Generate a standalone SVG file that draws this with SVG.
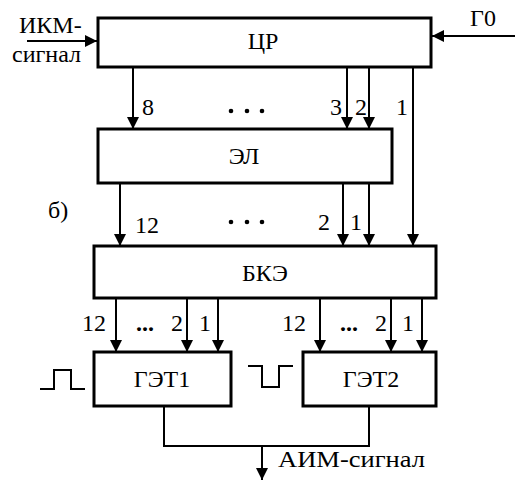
<svg xmlns="http://www.w3.org/2000/svg" width="515" height="481" viewBox="0 0 515 481">
<style>
.box{fill:#fff;stroke:#000;stroke-width:3}
.ln{fill:none;stroke:#000;stroke-width:2}
.ar{fill:none;stroke:#000;stroke-width:2;marker-end:url(#ah)}
text{font-family:"Liberation Serif","Times New Roman",serif;font-size:24px;fill:#000}
.c{text-anchor:middle}
.b{font-weight:bold}
.dot{fill:#000}
</style>
<defs>
<marker id="ah" viewBox="0 0 12 12" markerWidth="12" markerHeight="12" refX="12" refY="6" orient="auto" markerUnits="userSpaceOnUse">
<path d="M0,0 L12,6 L0,12 z" fill="#000"/>
</marker>
</defs>
<g id="connectors">
<line class="ar" x1="27" y1="41" x2="97" y2="41"/>
<line class="ar" x1="515" y1="36" x2="432" y2="36"/>
<line class="ar" x1="133" y1="67" x2="133" y2="129"/>
<line class="ar" x1="347" y1="67" x2="347" y2="129"/>
<line class="ar" x1="369" y1="67" x2="369" y2="129"/>
<line class="ar" x1="413" y1="67" x2="413" y2="246"/>
<line class="ar" x1="120" y1="183" x2="120" y2="246"/>
<line class="ar" x1="343" y1="183" x2="343" y2="246"/>
<line class="ar" x1="369" y1="183" x2="369" y2="246"/>
<line class="ar" x1="116" y1="298" x2="116" y2="352"/>
<line class="ar" x1="187" y1="298" x2="187" y2="352"/>
<line class="ar" x1="218" y1="298" x2="218" y2="352"/>
<line class="ar" x1="320" y1="298" x2="320" y2="352"/>
<line class="ar" x1="391" y1="298" x2="391" y2="352"/>
<line class="ar" x1="422" y1="298" x2="422" y2="352"/>
<polyline class="ln" points="164,406 164,446 369,446 369,406"/>
<line class="ar" x1="262" y1="446" x2="262" y2="480"/>
</g>
<g id="CR"><rect class="box" x="98" y="18" width="333" height="49"/><text class="c" x="263" y="49">ЦР</text></g>
<g id="EL"><rect class="box" x="98" y="129" width="294" height="54"/><text class="c" x="244" y="164">ЭЛ</text></g>
<g id="BKE"><rect class="box" x="94" y="246" width="342" height="52"/><text class="c" x="265" y="281">БКЭ</text></g>
<g id="GET1"><rect class="box" x="94" y="352" width="137" height="54"/><text class="c" x="162" y="387">ГЭТ1</text></g>
<g id="GET2"><rect class="box" x="303" y="352" width="133" height="54"/><text class="c" x="371" y="387">ГЭТ2</text></g>
<g id="labels">
<text x="19" y="33">ИКМ-</text>
<text x="12" y="62">сигнал</text>
<text x="470" y="26">Г0</text>
<text x="142" y="115">8</text>
<text x="330" y="115">3</text>
<text x="355" y="115">2</text>
<text x="396" y="115">1</text>
<text x="48" y="218">б)</text>
<text x="135" y="233">12</text>
<text x="318" y="230">2</text>
<text x="350" y="230">1</text>
<text x="82" y="331">12</text>
<text x="171" y="331">2</text>
<text x="199" y="331">1</text>
<text x="282" y="331">12</text>
<text x="375" y="331">2</text>
<text x="402" y="331">1</text>
<text class="b" x="136" y="331">...</text>
<text class="b" x="340" y="331">...</text>
<text x="278" y="467" textLength="147" lengthAdjust="spacingAndGlyphs">АИМ-сигнал</text>
</g>
<g id="dots">
<circle class="dot" cx="231" cy="111" r="2.3"/><circle class="dot" cx="247" cy="111" r="2.3"/><circle class="dot" cx="262" cy="111" r="2.3"/>
<circle class="dot" cx="231" cy="222" r="2.3"/><circle class="dot" cx="247" cy="222" r="2.3"/><circle class="dot" cx="262" cy="222" r="2.3"/>
</g>
<g id="pulses">
<polyline class="ln" points="40,389 54,389 54,370 71,370 71,389 85,389"/>
<polyline class="ln" points="248,366 262,366 262,387 279,387 279,366 293,366"/>
</g>
</svg>
